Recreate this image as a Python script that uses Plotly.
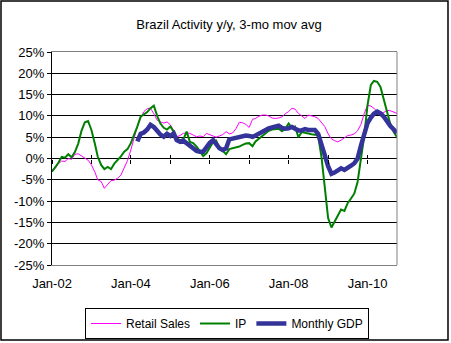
import pandas as pd
import plotly.graph_objects as go

# Year-over-year growth, % (3-month moving average), monthly from Jan-2002
retail_sales = [
    -2.7, -2.3, -1.2, -0.6, -0.7, 0.0, -0.2, 1.0, 1.1, 0.6, 0.2, -0.4,
    -1.5, -3.1, -5.0, -5.4, -7.0, -6.0, -5.2, -5.1, -4.6, -3.9, -2.3, -0.5,
    2.0, 5.0, 7.5, 9.5, 11.0, 11.7, 11.8, 10.5, 9.0, 8.6, 8.3, 8.6,
    7.9, 6.5, 5.1, 5.4, 5.9, 6.0, 5.9, 5.5, 5.1, 5.3, 5.1, 5.9,
    5.6, 5.2, 5.0, 5.3, 5.6, 6.3, 5.8, 6.0, 7.0, 8.5, 8.4, 8.0,
    7.3, 9.2, 9.4, 9.9, 10.2, 10.2, 10.0, 9.5, 9.4, 9.5, 9.8, 10.5,
    11.0, 11.8, 11.6, 10.6, 10.1, 9.4, 10.2, 10.0, 9.8, 9.4, 8.5, 7.5,
    5.8, 4.6, 4.2, 3.9, 4.3, 4.8, 5.4, 5.5, 5.8, 6.5, 8.0, 10.5,
    12.5, 12.3, 11.8, 11.0, 10.7, 10.8, 11.3, 11.2, 10.9, 10.6,
]

industrial_production = [
    -3.1, -2.0, -1.0, 0.4, 0.2, 1.0, 0.3, 1.5, 3.5, 6.5, 8.5, 8.8,
    6.7, 3.6, 0.4, -1.5, -2.5, -2.0, -2.5, -1.2, -0.4, 0.5, 1.6, 2.2,
    3.6, 5.5, 7.5, 9.8, 10.4, 10.9, 11.8, 12.4, 10.0, 8.2, 7.2, 6.8,
    7.5, 6.3, 4.7, 4.3, 4.5, 6.3, 3.9, 3.6, 2.8, 1.8, 0.6, 1.2,
    2.6, 3.9, 4.2, 2.5, 1.8, 1.0, 2.2, 2.4, 2.6, 2.8, 3.2, 3.5,
    3.6, 2.9, 4.0, 4.6, 5.3, 6.0, 6.5, 6.8, 6.9, 7.0, 6.4, 7.0,
    8.2, 7.2, 7.5, 5.0, 6.2, 6.0, 5.8, 5.7, 5.6, 5.3, 0.3, -7.0,
    -14.0, -16.2, -14.8, -13.5, -12.0, -12.3, -10.5, -9.4, -8.2, -5.5, -0.5, 5.2,
    12.5, 17.3, 18.2, 18.0, 16.8, 13.8, 10.8, 8.0, 6.2, 5.0,
]

# Monthly GDP proxy, available from Mar-2004
monthly_gdp = [
    4.0, 5.8, 6.1, 6.8, 7.9, 7.4, 6.5, 5.6, 5.1, 5.8,
    5.3, 5.9, 4.3, 3.9, 4.2, 3.6, 2.8, 2.4, 1.8, 1.6, 1.6, 2.6,
    3.7, 4.3, 3.5, 2.4, 2.0, 2.4, 4.5, 4.7, 4.9, 5.0, 5.3, 5.4,
    5.3, 5.1, 5.4, 5.9, 6.3, 6.8, 7.1, 7.3, 7.6, 7.7, 7.2, 7.0,
    7.1, 7.4, 7.0, 6.6, 6.6, 6.9, 6.7, 6.6, 6.7, 5.8, 3.6, 0.8,
    -1.8, -3.6, -3.3, -2.8, -2.3, -2.7, -2.3, -1.7, -1.1, 0.0, 3.0, 6.0,
    8.3, 9.6, 10.5, 11.0, 10.6, 9.8, 8.5, 7.6, 6.8, 6.0,
]

series_names = ["Retail Sales", "IP", "Monthly GDP"]
series_colors = ["#FF00FF", "#008000", "#333399"]
y_ticks = list(range(-25, 30, 5))
y_tick_labels = [f"{v}%" for v in y_ticks]
x_range = ["2002-01-01", "2010-10-01"]

months = pd.date_range("2002-01-01", periods=len(retail_sales), freq="MS")
gdp_months = pd.date_range("2004-03-01", periods=len(monthly_gdp), freq="MS")

FONT = "Liberation Sans, Arial, sans-serif"
W, H = 451, 343

fig = go.Figure()
fig.add_trace(go.Scatter(x=months, y=retail_sales, name=series_names[0], mode="lines",
                         line=dict(color=series_colors[0], width=1), xaxis="x", yaxis="y"))
fig.add_trace(go.Scatter(x=months, y=industrial_production, name=series_names[1], mode="lines",
                         line=dict(color=series_colors[1], width=2), xaxis="x2", yaxis="y"))
fig.add_trace(go.Scatter(x=gdp_months, y=monthly_gdp, name=series_names[2], mode="lines",
                         line=dict(color=series_colors[2], width=4.5), xaxis="x3", yaxis="y"))

# Year ticks crossing the zero line (one axis ticks down, one ticks up)
tick_axis = dict(range=x_range, overlaying="x", anchor="free", position=0.5,
                 type="date", dtick="M12", tick0="2002-01-01", ticklen=4,
                 tickcolor="black", tickwidth=1, showticklabels=False,
                 showgrid=False, showline=False, zeroline=False)

fig.update_layout(
    width=W, height=H,
    margin=dict(l=52, r=54, t=52, b=78, autoexpand=False),
    paper_bgcolor="white", plot_bgcolor="white",
    font=dict(family=FONT, size=13, color="black"),
    title=dict(text="Brazil Activity y/y, 3-mo mov avg", x=0.513, xref="paper",
               y=1 - 24 / H, yref="container", xanchor="center", yanchor="middle",
               font=dict(family=FONT, size=13, color="black")),
    xaxis=dict(range=x_range, type="date", dtick="M24", tick0="2002-01-01",
               tickformat="%b-%y", ticks="", showgrid=False, zeroline=False,
               showline=True, linecolor="#808080", linewidth=1, mirror=True,
               ticklabelstandoff=6, tickfont=dict(size=13)),
    xaxis2=dict(tick_axis, ticks="outside"),
    xaxis3=dict(tick_axis, ticks="inside"),
    yaxis=dict(range=[-25, 25], tickvals=y_ticks, ticktext=y_tick_labels,
               ticks="outside", ticklen=4, tickcolor="black",
               showline=True, linecolor="black", linewidth=1,
               showgrid=True, gridcolor="black", gridwidth=1, zeroline=False,
               tickfont=dict(size=13)),
    legend=dict(orientation="h", xref="container", x=227 / W, xanchor="center",
                yref="container", y=1 - 308 / H, yanchor="top",
                bordercolor="black", borderwidth=1, bgcolor="white",
                font=dict(size=12), itemwidth=30, tracegroupgap=0),
    showlegend=True,
    shapes=[
        dict(type="line", xref="paper", yref="paper", x0=1, x1=1, y0=0, y1=1,
             line=dict(color="#808080", width=1)),
        dict(type="rect", xref="paper", yref="paper",
             x0=(1 - 52) / 345, x1=(448 - 52) / 345,
             y0=(265 - 340) / 213, y1=(265 - 1) / 213,
             line=dict(color="black", width=1.5), fillcolor="rgba(0,0,0,0)"),
    ],
)

fig.write_html("out.html")
